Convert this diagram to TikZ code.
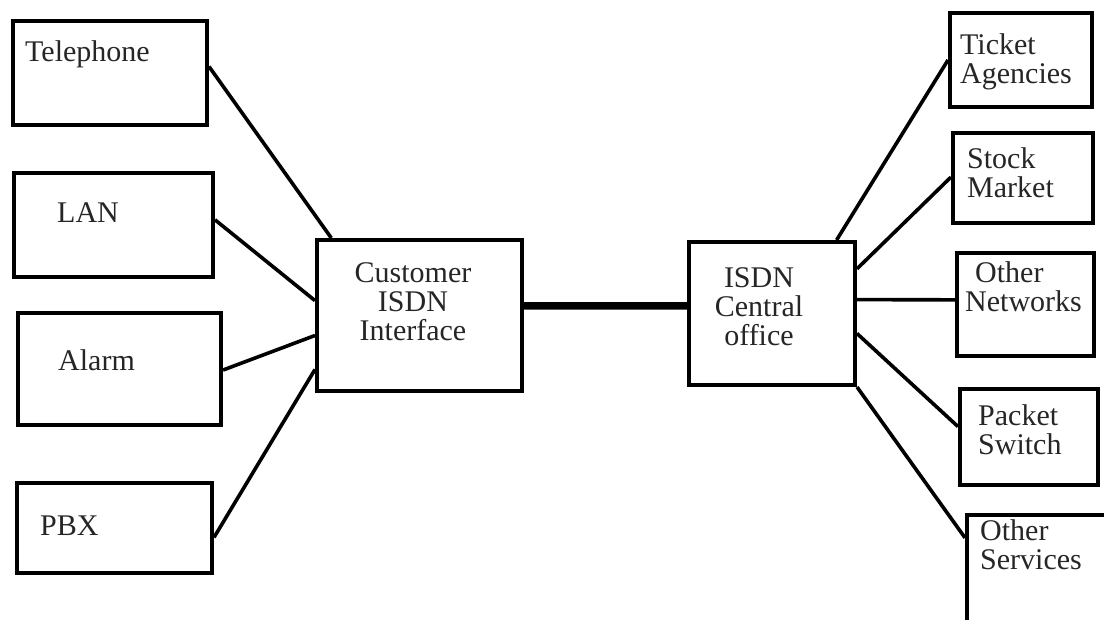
\documentclass[tikz,border=0pt]{standalone}
\usepackage{fontspec}
\setmainfont{Liberation Serif}
\usetikzlibrary{calc}

% stacked label lines: baseline of the whole block is the first line
\newcommand\twol[2]{\vtop{\hbox{#1}\hbox{#2}}}
\newcommand\threec[3]{\vtop{\halign{\hfil##\hfil\cr #1\cr #2\cr #3\cr}}}

\begin{document}
\begin{tikzpicture}[x=1pt,y=-1pt,
  box/.style={draw=black, line width=4pt, rectangle, inner sep=0pt},
  lbl/.style={inner sep=0pt, text=black!85, font=\fontsize{30}{29}\selectfont},
  wire/.style={draw=black, line width=3.6pt},
  trunk/.style={draw=black, line width=7.5pt}]

\clip (0,0) rectangle (1104,619);
\fill[white] (0,0) rectangle (1104,619);

% customer-side equipment
\node[box, minimum width=194pt, minimum height=104pt] (tel)   at (110,73)    {};
\node[box, minimum width=199pt, minimum height=104pt] (lan)   at (113.5,225) {};
\node[box, minimum width=203pt, minimum height=112pt] (alarm) at (119.5,369) {};
\node[box, minimum width=195pt, minimum height=90pt]  (pbx)   at (114.5,528) {};

\node[lbl, anchor=base west] (tel-t)   at (25,61)  {Telephone};
\node[lbl, anchor=base west] (lan-t)   at (57,222) {LAN};
\node[lbl, anchor=base west] (alarm-t) at (58,370) {Alarm};
\node[lbl, anchor=base west] (pbx-t)   at (40,535) {PBX};

% the two ISDN end points
\node[box, minimum width=205pt, minimum height=151pt] (cust) at (419.5,315.5) {};
\node[box, minimum width=166pt, minimum height=143pt] (co)   at (772,313.5)   {};

\node[lbl, anchor=base] (cust-t) at (413,282) {\threec{Customer}{ISDN}{Interface}};
\node[lbl, anchor=base] (co-t)   at (759,287) {\threec{ISDN}{Central}{office}};

% services reached through the central office
\node[box, minimum width=142pt, minimum height=94pt]  (ticket) at (1021,60)     {};
\node[box, minimum width=140pt, minimum height=90pt]  (stock)  at (1023,178)    {};
\node[box, minimum width=137pt, minimum height=103pt] (othnet) at (1025.5,304.5) {};
\node[box, minimum width=138pt, minimum height=96pt]  (packet) at (1029,437)    {};
\node[box, anchor=north west, minimum width=150pt, minimum height=130pt] (othsvc) at (965,513) {};

\node[lbl, anchor=base west] (ticket-t) at (960,54)  {\twol{Ticket}{Agencies}};
\node[lbl, anchor=base west] (stock-t)  at (967,168) {\twol{Stock}{Market}};
\node[lbl, anchor=base west] (othnet-t) at (965,282) {\twol{\hspace{10pt}Other}{Networks}};
\node[lbl, anchor=base west] (packet-t) at (978,425) {\twol{Packet}{Switch}};
\node[lbl, anchor=base west] (othsvc-t) at (980,540) {\twol{Other}{Services}};

% local links into the customer interface
\draw[wire] ($(tel.north east)!0.44!(tel.south east)$)     -- ($(cust.north west)!0.078!(cust.north east)$);
\draw[wire] ($(lan.north east)!0.452!(lan.south east)$)    -- ($(cust.north west)!0.404!(cust.south west)$);
\draw[wire] ($(alarm.north east)!0.509!(alarm.south east)$) -- ($(cust.north west)!0.629!(cust.south west)$);
\draw[wire] ($(pbx.north east)!0.6!(pbx.south east)$)      -- ($(cust.north west)!0.848!(cust.south west)$);

% subscriber line
\draw[trunk] ($(cust.north east)!0.4371!(cust.south east)$) -- ($(co.north west)!0.4476!(co.south west)$);

% central office fan-out
\draw[wire] ($(co.north west)!0.88!(co.north east)$)   -- (ticket.west);
\draw[wire] ($(co.north east)!0.196!(co.south east)$)  -- ($(stock.north west)!0.49!(stock.south west)$);
\draw[wire] ($(co.north east)!0.4056!(co.south east)$) -- ($(othnet.north west)!0.4563!(othnet.south west)$);
\draw[wire] ($(co.north east)!0.636!(co.south east)$)  -- ($(packet.north west)!0.396!(packet.south west)$);
\draw[wire] (co.south east) -- ($(othsvc.north west)!0.185!(othsvc.south west)$);

\end{tikzpicture}
\end{document}
